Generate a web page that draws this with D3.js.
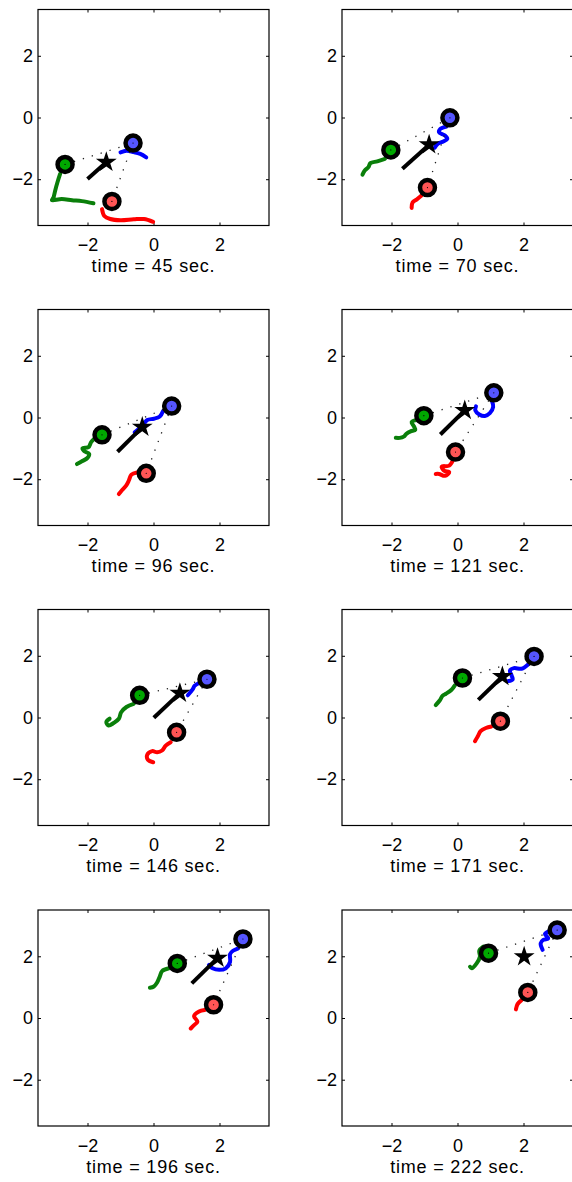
<!DOCTYPE html>
<html>
<head>
<meta charset="utf-8">
<script src="https://cdn.jsdelivr.net/npm/d3@7"></script>
<style>
  body { margin: 0; background: #fff; }
  svg { display: block; }
</style>
</head>
<body>
<div id="main"></div>
<script>
// snapshots of the swarm, one per panel
var times = [45, 70, 96, 121, 146, 171, 196, 222];
var tickVals = [-2, 0, 2];

// current positions (circles)
var greenPos = [[-2.68, -1.52], [-2.02, -1.05], [-1.56, -0.56], [-1.02, 0.06], [-0.42, 0.72], [0.15, 1.28], [0.72, 1.77], [0.94, 2.10]];
var bluePos  = [[-0.62, -0.83], [-0.23, -0.01], [0.55, 0.37], [1.10, 0.80], [1.62, 1.24], [2.32, 1.98], [2.71, 2.56], [3.02, 2.85]];
var redPos   = [[-1.26, -2.72], [-0.91, -2.27], [-0.22, -1.81], [-0.06, -1.12], [0.70, -0.48], [1.30, -0.12], [1.82, 0.43], [2.13, 0.83]];

// centroid (star) and heading line end
var starPos    = [[-1.43, -1.45], [-0.86, -0.88], [-0.34, -0.31], [0.22, 0.23], [0.80, 0.79], [1.36, 1.33], [1.94, 1.94], [2.02, 1.99]];
var headingEnd = [[-2.00, -1.99], [-1.67, -1.66], [-1.09, -1.11], [-0.52, -0.55], [0.01, -0.01], [0.63, 0.57], [1.16, 1.12], [2.02, 1.99]];

// trails (newest first)
var greenTrail = [
  [[-2.83, -1.83], [-2.91, -2.10], [-2.98, -2.37], [-3.03, -2.59], [-3.08, -2.68], [-2.78, -2.64], [-2.47, -2.68], [-2.17, -2.71], [-1.82, -2.78]],
  [[-2.20, -1.34], [-2.43, -1.42], [-2.64, -1.48], [-2.70, -1.61], [-2.81, -1.72], [-2.88, -1.85]],
  [[-1.76, -0.66], [-1.89, -0.80], [-1.97, -0.96], [-2.15, -0.99], [-2.10, -1.09], [-1.95, -1.18], [-2.00, -1.31], [-2.17, -1.42], [-2.32, -1.51]],
  [[-1.24, -0.08], [-1.39, -0.15], [-1.32, -0.29], [-1.28, -0.40], [-1.42, -0.45], [-1.55, -0.53], [-1.63, -0.62], [-1.75, -0.66], [-1.87, -0.66]],
  [[-0.60, 0.44], [-0.82, 0.34], [-0.98, 0.17], [-1.05, -0.04], [-1.21, -0.18], [-1.36, -0.26], [-1.43, -0.15], [-1.33, -0.04]],
  [[-0.08, 1.04], [-0.18, 0.90], [-0.35, 0.77], [-0.45, 0.71], [-0.54, 0.55], [-0.66, 0.40]],
  [[0.47, 1.61], [0.26, 1.52], [0.19, 1.34], [0.11, 1.15], [0.01, 1.02], [-0.11, 0.98]],
  [[0.78, 2.31], [0.66, 2.18], [0.68, 1.99], [0.58, 1.77], [0.43, 1.61], [0.38, 1.66]]
];
var blueTrail = [
  [[-0.22, -1.29], [-0.40, -1.18], [-0.60, -1.12], [-0.82, -1.08], [-1.00, -1.13]],
  [[-0.33, -0.29], [-0.52, -0.37], [-0.56, -0.48], [-0.38, -0.58], [-0.31, -0.69], [-0.43, -0.78], [-0.59, -0.85], [-0.69, -0.98]],
  [[0.29, 0.21], [0.19, 0.03], [0.01, -0.04], [-0.19, -0.08], [-0.31, -0.23], [-0.45, -0.37], [-0.57, -0.48]],
  [[1.04, 0.55], [1.08, 0.34], [0.98, 0.14], [0.83, 0.05], [0.66, 0.10], [0.54, 0.23], [0.56, 0.36]],
  [[1.38, 1.12], [1.25, 1.03], [1.18, 0.90], [1.04, 0.72]],
  [[2.14, 1.72], [1.94, 1.58], [1.71, 1.60], [1.59, 1.52], [1.64, 1.36], [1.67, 1.23], [1.54, 1.18]],
  [[2.57, 2.26], [2.41, 2.18], [2.32, 2.07], [2.32, 1.82], [2.19, 1.61], [1.99, 1.56], [1.79, 1.61], [1.68, 1.72]],
  [[2.75, 2.80], [2.65, 2.72], [2.75, 2.58], [2.60, 2.53], [2.52, 2.42], [2.58, 2.21]]
];
var redTrail = [
  [[-1.56, -2.97], [-1.49, -3.19], [-1.31, -3.29], [-1.00, -3.33], [-0.60, -3.30], [-0.29, -3.29], [-0.01, -3.38]],
  [[-1.09, -2.53], [-1.24, -2.66], [-1.36, -2.75], [-1.39, -2.93]],
  [[-0.50, -1.78], [-0.67, -1.85], [-0.75, -2.05], [-0.83, -2.21], [-0.95, -2.35], [-1.05, -2.48]],
  [[-0.13, -1.37], [-0.25, -1.56], [-0.48, -1.59], [-0.41, -1.72], [-0.25, -1.77], [-0.38, -1.89], [-0.56, -1.83], [-0.66, -1.83]],
  [[0.52, -0.80], [0.37, -0.91], [0.26, -1.07], [0.11, -1.13], [-0.04, -1.09], [-0.19, -1.21], [-0.17, -1.37], [-0.01, -1.45]],
  [[1.03, -0.29], [0.86, -0.34], [0.70, -0.44], [0.63, -0.58], [0.53, -0.77]],
  [[1.55, 0.26], [1.38, 0.21], [1.23, 0.06], [1.33, -0.12], [1.23, -0.23], [1.13, -0.34]],
  [[1.94, 0.58], [1.82, 0.45], [1.77, 0.28]]
];

var W = 572, H = 1182;
var pw = 231, ph = 216;
var colX = [38, 342], rowY = [9.5, 309.5, 609.5, 910];
var font = '"Liberation Sans", Arial, Helvetica, sans-serif';

var svg = d3.select('#main').append('svg')
  .attr('width', W).attr('height', H)
  .attr('font-family', font);

var x = d3.scaleLinear().domain([-3.5, 3.5]).range([0, pw]);
var y = d3.scaleLinear().domain([-3.5, 3.5]).range([ph, 0]);
var line = d3.line().x(d => x(d[0])).y(d => y(d[1])).curve(d3.curveCatmullRom);
var fmt = d3.format('d');

times.forEach(function(t, i) {
  var g = svg.append('g')
    .attr('transform', 'translate(' + colX[i % 2] + ',' + rowY[Math.floor(i / 2)] + ')');

  var clipId = 'clip' + i;
  g.append('clipPath').attr('id', clipId)
    .append('rect').attr('width', pw).attr('height', ph);

  // axes with inward ticks
  var styleAxis = function(a) {
    a.select('.domain').remove();
    a.selectAll('line').attr('stroke', '#000');
    a.selectAll('text').attr('font-size', 18).attr('font-family', font).attr('fill', '#000');
  };
  g.append('g').attr('transform', 'translate(0,' + ph + ')')
    .call(d3.axisBottom(x).tickValues(tickVals).tickFormat(fmt).tickSizeInner(-3).tickSizeOuter(0).tickPadding(13))
    .call(styleAxis);
  g.append('g')
    .call(d3.axisLeft(y).tickValues(tickVals).tickFormat(fmt).tickSizeInner(-3).tickSizeOuter(0).tickPadding(5))
    .call(styleAxis);
  g.append('g')
    .call(d3.axisTop(x).tickValues(tickVals).tickSizeInner(-3).tickSizeOuter(0).tickFormat(''))
    .call(styleAxis);
  g.append('g').attr('transform', 'translate(' + pw + ',0)')
    .call(d3.axisRight(y).tickValues(tickVals).tickSizeInner(-3).tickSizeOuter(0).tickFormat(''))
    .call(styleAxis);

  var plot = g.append('g').attr('clip-path', 'url(#' + clipId + ')');

  // trails
  [[greenTrail, '#0a7f0a'], [blueTrail, '#0000ff'], [redTrail, '#ff0000']].forEach(function(s) {
    plot.append('path')
      .attr('d', line(s[0][i]))
      .attr('fill', 'none')
      .attr('stroke', s[1])
      .attr('stroke-width', 4)
      .attr('stroke-linecap', 'round')
      .attr('stroke-linejoin', 'round');
  });

  // dotted links green-blue, blue-red
  [[greenPos[i], bluePos[i]], [bluePos[i], redPos[i]]].forEach(function(p) {
    plot.append('path')
      .attr('d', d3.line().x(d => x(d[0])).y(d => y(d[1]))(p))
      .attr('fill', 'none')
      .attr('stroke', '#222')
      .attr('stroke-width', 1.3)
      .attr('stroke-dasharray', '1.3,8');
  });

  // heading line
  plot.append('path')
    .attr('d', d3.line().x(d => x(d[0])).y(d => y(d[1]))([starPos[i], headingEnd[i]]))
    .attr('stroke', '#000')
    .attr('stroke-width', 4);

  // star
  plot.append('path')
    .attr('d', d3.symbol(d3.symbolStar, 135)())
    .attr('transform', 'translate(' + x(starPos[i][0]) + ',' + y(starPos[i][1]) + ')')
    .attr('fill', '#000');

  // agents
  [[greenPos, '#00a800'], [bluePos, '#5555ff'], [redPos, '#ff5555']].forEach(function(s) {
    var p = s[0][i];
    plot.append('circle')
      .attr('cx', x(p[0])).attr('cy', y(p[1])).attr('r', 7.5)
      .attr('fill', s[1]).attr('stroke', '#000').attr('stroke-width', 4.5);
    plot.append('circle')
      .attr('cx', x(p[0])).attr('cy', y(p[1])).attr('r', 0.6)
      .attr('fill', '#000');
  });

  // frame
  g.append('rect')
    .attr('width', pw).attr('height', ph)
    .attr('fill', 'none').attr('stroke', '#000').attr('stroke-width', 1.2);

  g.append('text')
    .attr('x', pw / 2).attr('y', ph + 46.5)
    .attr('text-anchor', 'middle')
    .attr('font-size', 18)
    .attr('letter-spacing', 0.8)
    .text('time = ' + t + ' sec.');
});
</script>
</body>
</html>
